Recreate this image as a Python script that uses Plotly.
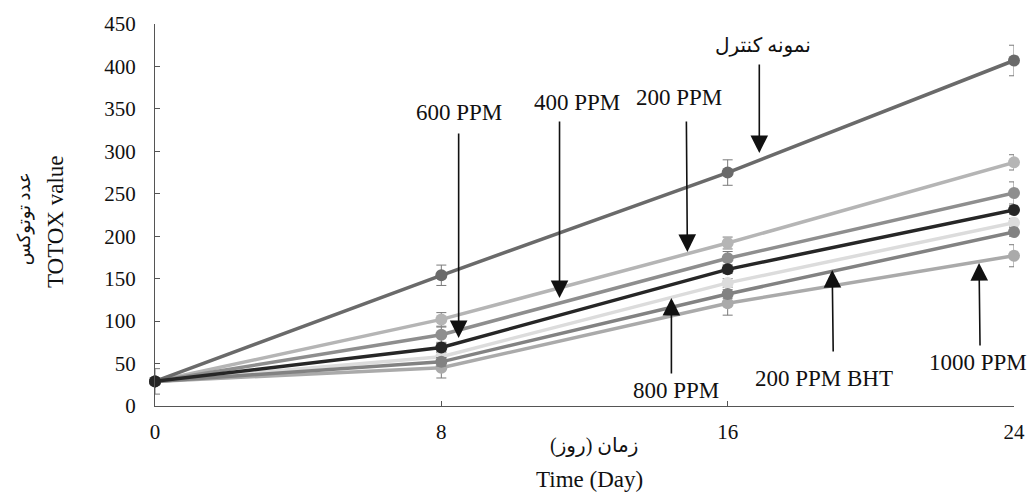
import plotly.graph_objects as go

# ---- data ----
days = [0, 8, 16, 24]
control = [29, 154, 275, 407]
ppm200 = [29, 102, 192, 287]
ppm400 = [29, 84, 174, 251]
ppm600 = [29, 69, 161, 231]
ppm800 = [29, 58, 145, 216]
bht200 = [29, 52, 132, 205]
ppm1000 = [29, 45, 121, 177]

control_err = [15, 12, 15, 18]
ppm200_err = [3, 8, 7, 9]
ppm400_err = [3, 9, 8, 13]
ppm600_err = [3, 5, 5, 5]
ppm800_err = [3, 5, 5, 5]
bht200_err = [3, 5, 5, 5]
ppm1000_err = [3, 12, 14, 13]

x_ticks = [0, 8, 16, 24]
y_ticks = [0, 50, 100, 150, 200, 250, 300, 350, 400, 450]

# ---- geometry ----
# target picture pixels; the captured page is squeezed horizontally by SX
SX = 0.990
TW, TH = 1027, 493
PL, PR, PT, PB = 153, 1013, 24, 406   # plot area in target pixels
W, H = round(TW / SX), TH
L = round(PL / SX)
R = W - round(PR / SX)
T, B = PT, TH - PB
X0, X1 = 0, 24
Y0, Y1 = 0, 450


def px2x(px):
    return X0 + (px - PL) / (PR - PL) * (X1 - X0)


def px2y(py):
    return Y0 + (PB - py) / (PB - PT) * (Y1 - Y0)


def px2paper_x(px):
    return (px - PL) / (PR - PL)


def px2paper_y(py):
    return (PB - py) / (PB - PT)


FONT = "Liberation Serif, Times New Roman, DejaVu Serif, DejaVu Sans, serif"

series = [
    ("800 PPM", ppm800, ppm800_err, "#dcdcdc"),
    ("1000 PPM", ppm1000, ppm1000_err, "#aaaaaa"),
    ("200 PPM BHT", bht200, bht200_err, "#828282"),
    ("200 PPM", ppm200, ppm200_err, "#b5b5b5"),
    ("400 PPM", ppm400, ppm400_err, "#8e8e8e"),
    ("Control", control, control_err, "#6a6a6a"),
    ("600 PPM", ppm600, ppm600_err, "#262626"),
]

fig = go.Figure()
for name, vals, err, col in series:
    fig.add_trace(go.Scatter(
        x=days, y=vals, name=name, mode="lines+markers",
        line=dict(color=col, width=3.5),
        marker=dict(color=col, size=12),
        error_y=dict(type="data", array=err, visible=True,
                     color="#7a7a7a", thickness=1, width=5),
        cliponaxis=False, showlegend=False,
    ))

# text labels (target pixel centres converted to data coords)
labels = [
    ("600 PPM", 457, 112, 23),
    ("400 PPM", 575, 102, 23),
    ("200 PPM", 678, 97, 23),
    ("نمونه کنترل", 762, 45, 20),
    ("800 PPM", 675, 390, 23),
    ("200 PPM BHT", 823, 378, 23),
    ("1000 PPM", 977, 362, 23),
]
annotations = []
for txt, px, py, fs in labels:
    annotations.append(dict(
        x=px2x(px), y=px2y(py), xref="x", yref="y", text=txt,
        showarrow=False, xanchor="center", yanchor="middle",
        font=dict(family=FONT, size=fs, color="#111"),
    ))

# arrows: (tip px, tail px)
arrows = [
    ((758, 153), (758, 63)),
    ((686, 252), (685, 120)),
    ((558, 298), (558, 120)),
    ((457, 338), (457, 132)),
    ((670, 298), (670, 375)),
    ((831, 270), (832, 353)),
    ((978, 263), (979, 347)),
]
for (tx, ty), (sx, sy) in arrows:
    annotations.append(dict(
        x=px2x(tx), y=px2y(ty), xref="x", yref="y", text="",
        showarrow=True, ax=(sx - tx) / SX, ay=sy - ty,
        axref="pixel", ayref="pixel",
        arrowhead=2, arrowsize=2.2, arrowwidth=1.6, arrowcolor="#111",
        standoff=0, startstandoff=0,
    ))

# axis titles
annotations += [
    dict(x=px2paper_x(593), y=px2paper_y(446), xref="paper", yref="paper",
         text="زمان (روز)", showarrow=False, xanchor="center", yanchor="middle",
         font=dict(family=FONT, size=20, color="#111")),
    dict(x=px2paper_x(588), y=px2paper_y(479), xref="paper", yref="paper",
         text="Time (Day)", showarrow=False, xanchor="center", yanchor="middle",
         font=dict(family=FONT, size=23, color="#111")),
    dict(x=px2paper_x(22), y=px2paper_y(219), xref="paper", yref="paper",
         text="عدد توتوکس", showarrow=False, xanchor="center", yanchor="middle",
         textangle=-90, font=dict(family=FONT, size=18, color="#111")),
    dict(x=px2paper_x(54), y=px2paper_y(222), xref="paper", yref="paper",
         text="TOTOX value", showarrow=False, xanchor="center", yanchor="middle",
         textangle=-90, font=dict(family=FONT, size=23, color="#111")),
]

fig.update_layout(
    width=W, height=H, autosize=False,
    margin=dict(l=L, r=R, t=T, b=B, pad=0),
    paper_bgcolor="white", plot_bgcolor="white",
    font=dict(family=FONT, size=21, color="#111"),
    annotations=annotations,
    xaxis=dict(range=[X0, X1], tickmode="array", tickvals=x_ticks,
               ticktext=[str(v) for v in x_ticks],
               showgrid=False, zeroline=False, showline=True,
               linecolor="#555", linewidth=1, ticks="inside", ticklen=5,
               tickcolor="#555", ticklabelstandoff=7),
    yaxis=dict(range=[Y0, Y1], tickmode="array", tickvals=y_ticks,
               ticktext=[str(v) for v in y_ticks],
               showgrid=False, zeroline=False, showline=True,
               linecolor="#555", linewidth=1, ticks="inside", ticklen=5,
               tickcolor="#555", ticklabelstandoff=14),
)

fig.write_html(
    "out.html",
    config={"responsive": False, "displayModeBar": False},
    post_script="document.body.style.margin='0';document.body.style.padding='0';"
                "document.body.style.overflow='hidden';",
)
